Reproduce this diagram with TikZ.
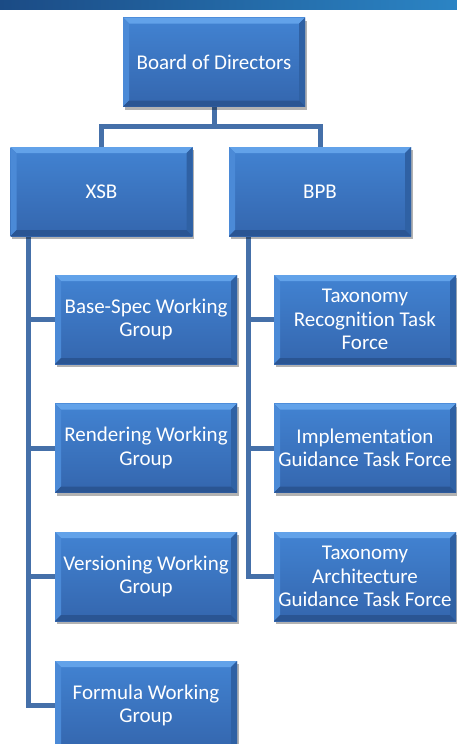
\documentclass[tikz,border=0pt]{standalone}
\usepackage{fontspec}
\setmainfont{Carlito}[Ligatures=NoCommon]
\usetikzlibrary{shadows,backgrounds}
\definecolor{barl}{HTML}{1B4B85}
\definecolor{barr}{HTML}{2B84C4}
\definecolor{boxtop}{HTML}{4283D2}
\definecolor{boxbot}{HTML}{3466AE}
\definecolor{bevtop}{HTML}{62A2E9}
\definecolor{bevleft}{HTML}{4B8AD7}
\definecolor{bevright}{HTML}{2F61A4}
\definecolor{bevbot}{HTML}{2A5593}
\definecolor{conncol}{HTML}{4570A9}
\newcommand{\bvw}{6pt}
\tikzset{
  orgbox/.style={rectangle, minimum width=182pt, minimum height=89pt, inner sep=0pt,
    align=center, text=white, font=\fontsize{21}{23.3}\selectfont,
    top color=boxtop, bottom color=boxbot,
    drop shadow={shadow xshift=1.5pt, shadow yshift=-3pt, opacity=0.3, fill=black},
    path picture={
      \path (path picture bounding box.north west) coordinate (pnw)
            (path picture bounding box.south east) coordinate (pse);
      \fill[bevtop] (pnw) -- (pse|-pnw) -- ([shift={(-\bvw,-\bvw)}]pse|-pnw) -- ([shift={(\bvw,-\bvw)}]pnw) -- cycle;
      \fill[bevleft] (pnw) -- ([shift={(\bvw,-\bvw)}]pnw) -- ([shift={(\bvw,\bvw)}]pnw|-pse) -- (pnw|-pse) -- cycle;
      \fill[bevright] (pse|-pnw) -- (pse) -- ([shift={(-\bvw,\bvw)}]pse) -- ([shift={(-\bvw,-\bvw)}]pse|-pnw) -- cycle;
      \fill[bevbot] (pnw|-pse) -- ([shift={(\bvw,\bvw)}]pnw|-pse) -- ([shift={(-\bvw,\bvw)}]pse) -- (pse) -- cycle;
    }},
  conn/.style={draw=conncol, line width=5pt, line join=miter}
}
\begin{document}
\begin{tikzpicture}[x=1pt, y=-1pt]
\useasboundingbox (0,0) rectangle (457,744);
\fill[left color=barl, right color=barr] (0,0) rectangle (457,9);

\node[orgbox] (board) at (214,62) {Board of Directors};
\node[orgbox] (xsb) at (101.5,191.5) {XSB};
\node[orgbox] (bpb) at (320,191.5) {BPB};

\node[orgbox] (base) at (146,319.5) {Base-Spec Working\\Group};
\node[orgbox] (rend) at (146,448) {Rendering Working\\Group};
\node[orgbox] (vers) at (146,576.5) {Versioning Working\\Group};
\node[orgbox] (form) at (146,705.5) {Formula Working\\Group};

\node[orgbox] (taxrec) at (365,319.5) {Taxonomy\\Recognition Task\\Force};
\node[orgbox] (impl) at (365,448) {Implementation\\Guidance Task Force};
\node[orgbox] (taxarch) at (365,576.5) {Taxonomy\\Architecture\\Guidance Task Force};

\coordinate (jt) at (214,126);
\coordinate (xs) at (28,236);
\coordinate (bs) at (248,236);

\begin{scope}[on background layer]
\draw[conn] (board.south) -- (jt);
\draw[conn] (xsb.north) -- (xsb.north |- jt) -- (bpb.north |- jt) -- (bpb.north);
\draw[conn] (xs) |- (form.west);
\draw[conn] (xs |- base.west) -- (base.west);
\draw[conn] (xs |- rend.west) -- (rend.west);
\draw[conn] (xs |- vers.west) -- (vers.west);
\draw[conn] (bs) |- (taxarch.west);
\draw[conn] (bs |- taxrec.west) -- (taxrec.west);
\draw[conn] (bs |- impl.west) -- (impl.west);
\end{scope}
\end{tikzpicture}
\end{document}
